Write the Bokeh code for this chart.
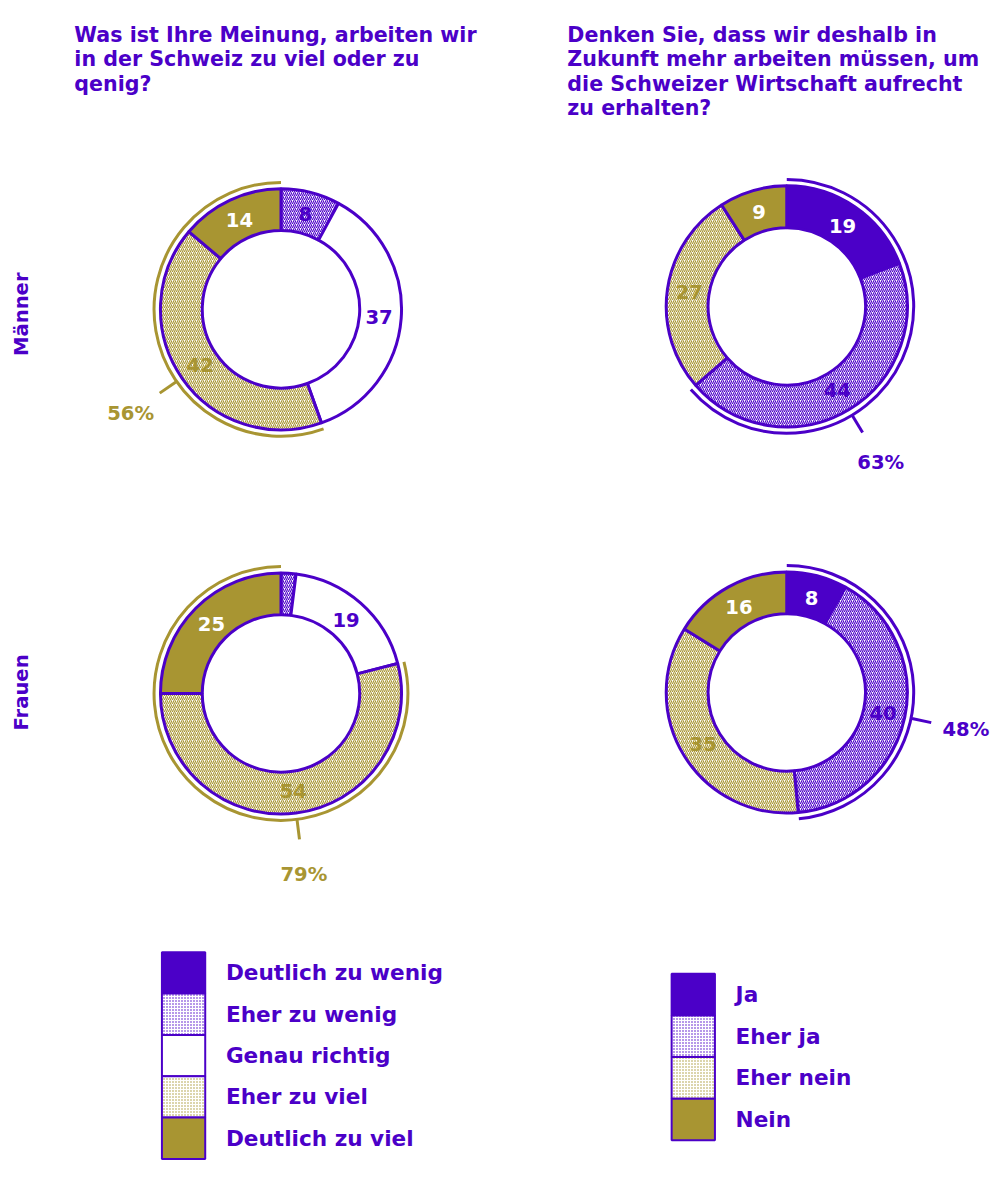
import numpy as np
from bokeh.plotting import figure
from bokeh.models import Range1d
from bokeh.embed import file_html
from bokeh.resources import INLINE
from bokeh.core.properties import value

# ---------------- data ----------------
left_title = ["Was ist Ihre Meinung, arbeiten wir", "in der Schweiz zu viel oder zu", "qenig?"]
right_title = ["Denken Sie, dass wir deshalb in", "Zukunft mehr arbeiten müssen, um",
               "die Schweizer Wirtschaft aufrecht", "zu erhalten?"]
row_labels = ["Männer", "Frauen"]

left_categories = ["Deutlich zu wenig", "Eher zu wenig", "Genau richtig", "Eher zu viel", "Deutlich zu viel"]
left_men = [0, 8, 37, 42, 14]
left_women = [0, 2, 19, 54, 25]

right_categories = ["Ja", "Eher ja", "Eher nein", "Nein"]
right_men = [19, 44, 27, 9]
right_women = [8, 40, 35, 16]

# ---------------- styles ----------------
PURPLE = "#4b00c8"
OLIVE = "#a89532"
FONT = value("DejaVu Sans")
WEIGHT = "bold"

left_fill = [PURPLE, "white", "white", "white", OLIVE]
left_hatch = [None, PURPLE, None, OLIVE, None]
left_txt = ["white", PURPLE, PURPLE, OLIVE, "white"]
left_group = [3, 4]          # highlighted (outer arc) categories
left_group_color = OLIVE
left_tick_cat = 3

right_fill = [PURPLE, "white", "white", OLIVE]
right_hatch = [None, PURPLE, OLIVE, None]
right_txt = ["white", PURPLE, OLIVE, "white"]
right_group = [0, 1]
right_group_color = PURPLE
right_tick_cat = 1

W, H = 990, 1161
SX, AX = 0.984, 3.0
SY, BY = 0.98, 6.0
p = figure(width=W, height=H,
           x_range=Range1d(-AX / SX, (W - AX) / SX),
           y_range=Range1d(1177 - (H - BY) / SY, 1177 + BY / SY),
           output_backend="svg", toolbar_location=None, min_border=0,
           x_axis_type=None, y_axis_type=None)
p.outline_line_color = None
p.grid.visible = False
p.background_fill_color = "white"
p.border_fill_color = "white"


def Y(y):
    return 1177 - y


def fs(px):
    return f"{px * 0.982:.1f}px"


R_IN, R_OUT = 80, 122.5
R_LAB = 100
R_ARC = 129
R_T0, R_T1 = 130, 150
R_PCT = 186


def donut(cx, cy, vals, fills, hatches, txtcols, group, gcol, tick_cat):
    cy = Y(cy)
    vals = np.array(vals, dtype=float)
    tot = vals.sum()
    cum = np.concatenate([[0], np.cumsum(vals)]) / tot * 2 * np.pi  # clockwise from top
    for i, v in enumerate(vals):
        if v <= 0:
            continue
        a0, a1 = cum[i], cum[i + 1]
        kw = dict(x=[cx], y=[cy], inner_radius=R_IN, outer_radius=R_OUT,
                  start_angle=np.pi / 2 - a1, end_angle=np.pi / 2 - a0,
                  fill_color=fills[i], line_color=PURPLE, line_width=3)
        if hatches[i]:
            kw.update(hatch_pattern="/", hatch_color=hatches[i], hatch_scale=4, hatch_weight=1.1)
        p.annular_wedge(**kw)
    for i, v in enumerate(vals):
        if v < 5:
            continue
        m = (cum[i] + cum[i + 1]) / 2
        p.text(x=[cx + R_LAB * np.sin(m)], y=[cy + R_LAB * np.cos(m)], text=[str(int(v))],
               text_color=txtcols[i], text_font=FONT, text_font_size=fs(20),
               text_font_style=WEIGHT, text_align="center", text_baseline="middle")
    g0, g1 = cum[min(group)], cum[max(group) + 1]
    p.arc(x=[cx], y=[cy], radius=R_ARC, start_angle=np.pi / 2 - g1, end_angle=np.pi / 2 - g0,
          line_color=gcol, line_width=3)
    t = (cum[tick_cat] + cum[tick_cat + 1]) / 2
    p.segment(x0=[cx + R_T0 * np.sin(t)], y0=[cy + R_T0 * np.cos(t)],
              x1=[cx + R_T1 * np.sin(t)], y1=[cy + R_T1 * np.cos(t)],
              line_color=gcol, line_width=3)
    pct = int(sum(vals[j] for j in group))
    p.text(x=[cx + R_PCT * np.sin(t)], y=[cy + R_PCT * np.cos(t)], text=[f"{pct}%"],
           text_color=gcol, text_font=FONT, text_font_size=fs(20), text_font_style=WEIGHT,
           text_align="center", text_baseline="middle")


donut(282, 309, left_men, left_fill, left_hatch, left_txt, left_group, left_group_color, left_tick_cat)
donut(282, 701, left_women, left_fill, left_hatch, left_txt, left_group, left_group_color, left_tick_cat)
donut(796, 306, right_men, right_fill, right_hatch, right_txt, right_group, right_group_color, right_tick_cat)
donut(796, 700, right_women, right_fill, right_hatch, right_txt, right_group, right_group_color, right_tick_cat)

# titles
for k, line in enumerate(left_title):
    p.text(x=[72], y=[Y(29 + 25 * k)], text=[line], text_color=PURPLE, text_font=FONT,
           text_font_size=fs(21), text_font_style=WEIGHT, text_align="left", text_baseline="alphabetic")
for k, line in enumerate(right_title):
    p.text(x=[573], y=[Y(29 + 25 * k)], text=[line], text_color=PURPLE, text_font=FONT,
           text_font_size=fs(21), text_font_style=WEIGHT, text_align="left", text_baseline="alphabetic")

# row labels
for lab, yy in zip(row_labels, [314, 700]):
    p.text(x=[18], y=[Y(yy)], text=[lab], angle=np.pi / 2, text_color=PURPLE, text_font=FONT,
           text_font_size=fs(20), text_font_style=WEIGHT, text_align="center", text_baseline="middle")


def legend(x0, ytop, h, cats, fills, hatches):
    for i, c in enumerate(cats):
        top = ytop + h * i
        kw = dict(left=[x0], right=[x0 + 44], top=[Y(top)], bottom=[Y(top + h)],
                  fill_color=fills[i], line_color=PURPLE, line_width=2)
        if hatches[i]:
            kw.update(hatch_pattern="dot", hatch_color=hatches[i], hatch_scale=3, hatch_weight=1.2)
        p.quad(**kw)
        p.text(x=[x0 + 65], y=[Y(top + h / 2)], text=[c], text_color=PURPLE, text_font=FONT,
               text_font_size=fs(22), text_font_style=WEIGHT, text_align="left", text_baseline="middle")


legend(161, 965, 42.2, left_categories, left_fill, left_hatch)
legend(679, 987, 42.5, right_categories, right_fill, right_hatch)

open("out.html", "w").write(file_html(p, INLINE))
